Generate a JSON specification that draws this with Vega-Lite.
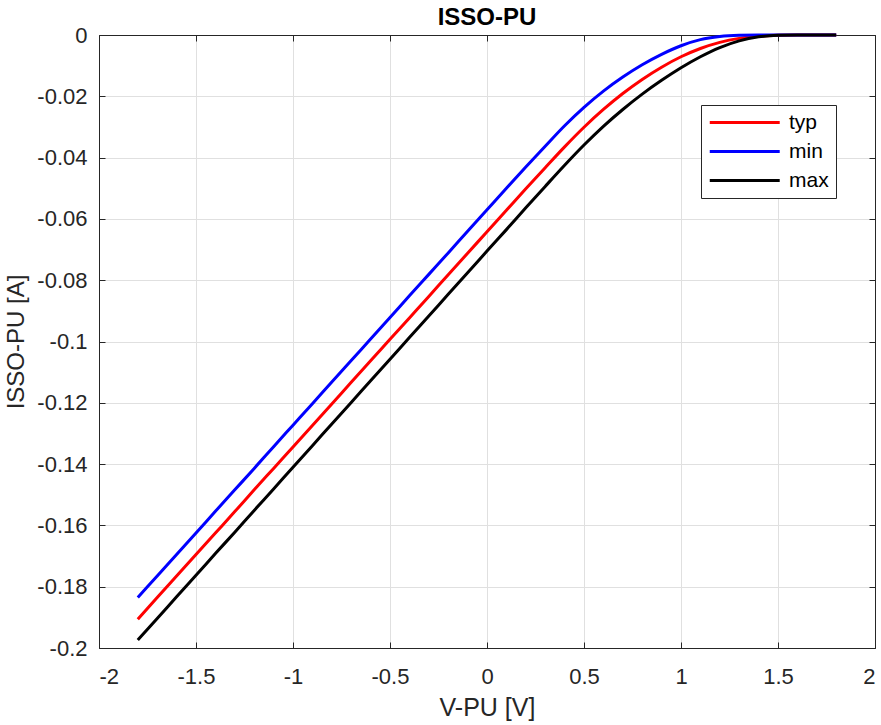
{
  "$schema": "https://vega.github.io/schema/vega-lite/v6.json",
  "width": 776,
  "height": 613,
  "autosize": {"type": "none"},
  "padding": {"left": 99, "top": 35, "right": 6, "bottom": 77},
  "background": "white",
  "title": {"text": "ISSO-PU", "fontSize": 24, "fontWeight": "bold", "font": "Liberation Sans", "color": "#000000", "offset": -6},
  "config": {
    "view": {"stroke": "#262626", "strokeWidth": 1},
    "axis": {
      "domainColor": "#262626",
      "tickColor": "#262626",
      "tickSize": -6,
      "labelFont": "Liberation Sans",
      "labelFontSize": 22,
      "labelColor": "#262626",
      "titleFont": "Liberation Sans",
      "titleFontSize": 25,
      "titleFontWeight": "normal",
      "titleColor": "#262626",
      "gridColor": "#e0e0e0",
      "gridWidth": 1
    }
  },
  "data": {"values": [
    {"series": "typ", "x": -1.8, "y": -0.1906}, {"series": "typ", "x": -1.7, "y": -0.1835}, {"series": "typ", "x": -1.6, "y": -0.1765}, {"series": "typ", "x": -1.5, "y": -0.1695}, {"series": "typ", "x": -1.4, "y": -0.1625}, {"series": "typ", "x": -1.3, "y": -0.1555}, {"series": "typ", "x": -1.2, "y": -0.1484}, {"series": "typ", "x": -1.1, "y": -0.1414}, {"series": "typ", "x": -1.0, "y": -0.1344}, {"series": "typ", "x": -0.9, "y": -0.1274}, {"series": "typ", "x": -0.8, "y": -0.1204}, {"series": "typ", "x": -0.7, "y": -0.1133}, {"series": "typ", "x": -0.6, "y": -0.1063}, {"series": "typ", "x": -0.5, "y": -0.0993}, {"series": "typ", "x": -0.4, "y": -0.0923}, {"series": "typ", "x": -0.3, "y": -0.0853}, {"series": "typ", "x": -0.2, "y": -0.0782}, {"series": "typ", "x": -0.1, "y": -0.0712}, {"series": "typ", "x": 0.0, "y": -0.0642}, {"series": "typ", "x": 0.1, "y": -0.0572}, {"series": "typ", "x": 0.2, "y": -0.0502}, {"series": "typ", "x": 0.3, "y": -0.0433}, {"series": "typ", "x": 0.4, "y": -0.0365}, {"series": "typ", "x": 0.5, "y": -0.0301}, {"series": "typ", "x": 0.6, "y": -0.0243}, {"series": "typ", "x": 0.7, "y": -0.0191}, {"series": "typ", "x": 0.8, "y": -0.0145}, {"series": "typ", "x": 0.9, "y": -0.0105}, {"series": "typ", "x": 1.0, "y": -0.0071}, {"series": "typ", "x": 1.1, "y": -0.0044}, {"series": "typ", "x": 1.2, "y": -0.0024}, {"series": "typ", "x": 1.3, "y": -0.0011}, {"series": "typ", "x": 1.4, "y": -0.0004}, {"series": "typ", "x": 1.5, "y": -0.0001}, {"series": "typ", "x": 1.6, "y": 0}, {"series": "typ", "x": 1.7, "y": 0}, {"series": "typ", "x": 1.8, "y": 0},
    {"series": "min", "x": -1.8, "y": -0.1835}, {"series": "min", "x": -1.7, "y": -0.1765}, {"series": "min", "x": -1.6, "y": -0.1695}, {"series": "min", "x": -1.5, "y": -0.1625}, {"series": "min", "x": -1.4, "y": -0.1554}, {"series": "min", "x": -1.3, "y": -0.1484}, {"series": "min", "x": -1.2, "y": -0.1414}, {"series": "min", "x": -1.1, "y": -0.1343}, {"series": "min", "x": -1.0, "y": -0.1273}, {"series": "min", "x": -0.9, "y": -0.1203}, {"series": "min", "x": -0.8, "y": -0.1132}, {"series": "min", "x": -0.7, "y": -0.1062}, {"series": "min", "x": -0.6, "y": -0.0992}, {"series": "min", "x": -0.5, "y": -0.0922}, {"series": "min", "x": -0.4, "y": -0.0851}, {"series": "min", "x": -0.3, "y": -0.0781}, {"series": "min", "x": -0.2, "y": -0.0711}, {"series": "min", "x": -0.1, "y": -0.0640}, {"series": "min", "x": 0.0, "y": -0.0570}, {"series": "min", "x": 0.1, "y": -0.0500}, {"series": "min", "x": 0.2, "y": -0.0431}, {"series": "min", "x": 0.3, "y": -0.0363}, {"series": "min", "x": 0.4, "y": -0.0296}, {"series": "min", "x": 0.5, "y": -0.0236}, {"series": "min", "x": 0.6, "y": -0.0183}, {"series": "min", "x": 0.7, "y": -0.0137}, {"series": "min", "x": 0.8, "y": -0.0097}, {"series": "min", "x": 0.9, "y": -0.0063}, {"series": "min", "x": 1.0, "y": -0.0035}, {"series": "min", "x": 1.1, "y": -0.0015}, {"series": "min", "x": 1.2, "y": -0.0005}, {"series": "min", "x": 1.3, "y": -0.0001}, {"series": "min", "x": 1.4, "y": 0}, {"series": "min", "x": 1.5, "y": 0}, {"series": "min", "x": 1.6, "y": 0}, {"series": "min", "x": 1.7, "y": 0}, {"series": "min", "x": 1.8, "y": 0},
    {"series": "max", "x": -1.8, "y": -0.1974}, {"series": "max", "x": -1.7, "y": -0.1904}, {"series": "max", "x": -1.6, "y": -0.1833}, {"series": "max", "x": -1.5, "y": -0.1763}, {"series": "max", "x": -1.4, "y": -0.1692}, {"series": "max", "x": -1.3, "y": -0.1622}, {"series": "max", "x": -1.2, "y": -0.1551}, {"series": "max", "x": -1.1, "y": -0.1481}, {"series": "max", "x": -1.0, "y": -0.1410}, {"series": "max", "x": -0.9, "y": -0.1340}, {"series": "max", "x": -0.8, "y": -0.1269}, {"series": "max", "x": -0.7, "y": -0.1199}, {"series": "max", "x": -0.6, "y": -0.1128}, {"series": "max", "x": -0.5, "y": -0.1058}, {"series": "max", "x": -0.4, "y": -0.0987}, {"series": "max", "x": -0.3, "y": -0.0917}, {"series": "max", "x": -0.2, "y": -0.0846}, {"series": "max", "x": -0.1, "y": -0.0776}, {"series": "max", "x": 0.0, "y": -0.0705}, {"series": "max", "x": 0.1, "y": -0.0635}, {"series": "max", "x": 0.2, "y": -0.0564}, {"series": "max", "x": 0.3, "y": -0.0494}, {"series": "max", "x": 0.4, "y": -0.0425}, {"series": "max", "x": 0.5, "y": -0.0359}, {"series": "max", "x": 0.6, "y": -0.0298}, {"series": "max", "x": 0.7, "y": -0.0243}, {"series": "max", "x": 0.8, "y": -0.0193}, {"series": "max", "x": 0.9, "y": -0.0148}, {"series": "max", "x": 1.0, "y": -0.0107}, {"series": "max", "x": 1.1, "y": -0.0071}, {"series": "max", "x": 1.2, "y": -0.0041}, {"series": "max", "x": 1.3, "y": -0.0019}, {"series": "max", "x": 1.4, "y": -0.0006}, {"series": "max", "x": 1.5, "y": -0.0001}, {"series": "max", "x": 1.6, "y": 0}, {"series": "max", "x": 1.7, "y": 0}, {"series": "max", "x": 1.8, "y": 0}
  ]},
  "layer": [
    {
      "mark": {"type": "line", "strokeWidth": 3, "interpolate": "monotone"},
      "encoding": {
        "x": {
          "field": "x", "type": "quantitative",
          "scale": {"domain": [-2, 2], "nice": false, "zero": false},
          "axis": {"values": [-2, -1.5, -1, -0.5, 0, 0.5, 1, 1.5, 2], "title": "V-PU [V]", "labelPadding": 24, "titlePadding": 8, "labelExpr": "replace(format(datum.value, '~g'), '−', '-')"}
        },
        "y": {
          "field": "y", "type": "quantitative",
          "scale": {"domain": [-0.2, 0], "nice": false, "zero": false},
          "axis": {"values": [-0.2, -0.18, -0.16, -0.14, -0.12, -0.1, -0.08, -0.06, -0.04, -0.02, 0], "title": "ISSO-PU [A]", "titleFontSize": 24, "labelPadding": 18, "titlePadding": 8, "labelExpr": "replace(format(datum.value, '~g'), '−', '-')"}
        },
        "color": {
          "field": "series", "type": "nominal",
          "scale": {"domain": ["typ", "min", "max"], "range": ["#ff0000", "#0000ff", "#000000"]},
          "legend": {
            "orient": "none", "legendX": 602, "legendY": 70, "title": null,
            "symbolType": "M-1,0H7", "symbolSize": 306, "symbolStrokeWidth": 3,
            "labelFont": "Liberation Sans", "labelFontSize": 21, "labelColor": "#000000",
            "strokeColor": "#262626", "fillColor": "#ffffff", "padding": 7, "rowPadding": 7, "labelOffset": 60
          }
        }
      }
    },
    {
      "mark": {"type": "line", "opacity": 0},
      "encoding": {
        "x": {"field": "x", "type": "quantitative", "axis": {"orient": "top", "values": [-2, -1.5, -1, -0.5, 0, 0.5, 1, 1.5, 2], "labels": false, "grid": false, "title": null}},
        "y": {"field": "y", "type": "quantitative", "axis": {"orient": "right", "values": [-0.2, -0.18, -0.16, -0.14, -0.12, -0.1, -0.08, -0.06, -0.04, -0.02, 0], "labels": false, "grid": false, "title": null}},
        "detail": {"field": "series"}
      }
    }
  ],
  "resolve": {"axis": {"x": "independent", "y": "independent"}}
}
